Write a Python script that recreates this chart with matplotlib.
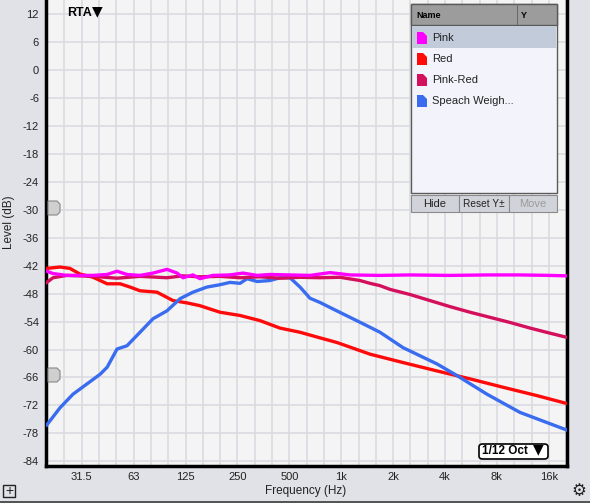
import matplotlib
matplotlib.use("Agg")
import matplotlib.pyplot as plt
from matplotlib.patches import Rectangle, Polygon, FancyBboxPatch
from matplotlib.ticker import FixedLocator, NullFormatter

plt.rcParams['font.family'] = ['Liberation Sans', 'DejaVu Sans']
plt.rcParams['axes.unicode_minus'] = False

# 数据
pink_f = [19.6, 21.3, 25.6, 30.5, 36.4, 43.9, 50.1, 57.2, 68.1, 81, 97.6, 111.6, 120.9,
          138.1, 151.6, 180.4, 226, 269.6, 325, 386, 504, 660, 861, 1125, 1679, 2500,
          4275, 7000, 10890, 16260, 20400]
pink_db = [-43.2, -43.7, -44.1, -44.1, -44.1, -43.9, -43.2, -43.9, -44.1, -43.6, -42.8,
           -43.6, -44.6, -44.0, -44.8, -44.1, -44.0, -43.6, -44.1, -43.9, -44.0, -44.1,
           -43.5, -44.0, -44.1, -44.0, -44.1, -44.0, -44.0, -44.1, -44.2]

red_f = [19.6, 23.4, 26.7, 30.5, 36.4, 43.9, 52.2, 59.6, 68.1, 85.4, 105.8, 127.5, 151.6,
         198, 259, 338, 386, 441, 577, 753, 945, 1469, 2283, 3595, 5585, 8680, 13670, 20400]
red_db = [-42.6, -42.3, -42.6, -43.8, -44.5, -45.9, -45.9, -46.6, -47.4, -47.7, -49.5,
          -50.0, -50.6, -52.0, -52.7, -53.8, -54.6, -55.4, -56.3, -57.5, -58.5, -61.0,
          -62.8, -64.6, -66.3, -68.1, -69.9, -71.6]

pinkred_f = [19.6, 21.3, 25.6, 36.4, 50.1, 68.1, 97.6, 120, 151.6, 198, 259, 338, 441,
             577, 753, 984, 1285, 1469, 1679, 1919, 2507, 3274, 4275, 5585, 7295, 9530,
             12450, 16260, 20400]
pinkred_db = [-45.6, -44.6, -44.1, -44.3, -44.7, -44.3, -44.6, -44.2, -44.4, -44.3, -44.6,
              -44.4, -44.7, -44.5, -44.6, -44.5, -45.2, -45.8, -46.3, -47.1, -48.2, -49.5,
              -50.8, -52.0, -53.1, -54.2, -55.4, -56.5, -57.4]

blue_f = [19.6, 23.4, 27.8, 33.5, 40, 43.9, 50.1, 57.2, 68.1, 81, 97.6, 116.2, 138.1,
          166.4, 198, 226.5, 259, 284.5, 325, 386, 441.5, 504.5, 577, 659, 753, 896,
          1125, 1411, 1679, 2283, 3595, 4695, 7010, 10890, 20400]
blue_db = [-76.2, -72.5, -69.6, -67.4, -65.3, -63.8, -59.9, -59.2, -56.3, -53.4, -51.7,
           -49.1, -47.7, -46.6, -46.1, -45.6, -45.8, -44.8, -45.4, -45.2, -44.6, -44.6,
           -46.6, -49.0, -49.9, -51.3, -53.1, -54.9, -56.3, -59.6, -63.1, -65.6, -69.6,
           -73.5, -77.3]

series_names = ["Pink", "Red", "Pink-Red", "Speach Weigh..."]
series_colors = ["#ff00ff", "#ff0a0a", "#d4105c", "#3a6cf0"]

x_ticks = [31.25, 62.5, 125, 250, 500, 1000, 2000, 4000, 8000, 16000]
x_labels = ["31.5", "63", "125", "250", "500", "1k", "2k", "4k", "8k", "16k"]
y_ticks = list(range(-84, 13, 6))

W, H = 590, 503


def fx(x):
    return x / W


def fy(y):
    return 1 - y / H


fig = plt.figure(figsize=(5.9, 5.03), dpi=100)
fig.patch.set_facecolor("#e1e2e7")

ax = fig.add_axes([fx(46), fy(466), 521 / W, 466 / H])
ax.set_facecolor("#f4f4f4")
ax.set_xscale("log")
ax.set_xlim(19.4, 20400)
ax.set_ylim(-85, 15)

# 1/3 倍频程网格
minor = [1000 * 2 ** (k / 3) for k in range(-17, 14)]
ax.xaxis.set_major_locator(FixedLocator(x_ticks))
ax.set_xticklabels(x_labels)
ax.xaxis.set_minor_locator(FixedLocator(minor))
ax.xaxis.set_minor_formatter(NullFormatter())
ax.set_yticks(y_ticks)
ax.grid(True, which="both", axis="x", color="#dadbe1", linewidth=1.2)
ax.grid(True, axis="y", color="#dadbe1", linewidth=1.2)
ax.set_axisbelow(True)
ax.tick_params(which="both", length=0, labelsize=8, colors="#222222")
ax.tick_params(axis="x", pad=4)
ax.tick_params(axis="y", pad=5)

for s in ["left", "bottom", "right"]:
    ax.spines[s].set_linewidth(2.5)
    ax.spines[s].set_color("black")
ax.spines["top"].set_visible(False)

lw = 2.4
ax.plot(red_f, red_db, color=series_colors[1], lw=lw, zorder=3)
ax.plot(blue_f, blue_db, color=series_colors[3], lw=lw, zorder=3)
ax.plot(pinkred_f, pinkred_db, color=series_colors[2], lw=lw, zorder=4)
ax.plot(pink_f, pink_db, color=series_colors[0], lw=lw, zorder=5)

fig.text(fx(306), fy(491), "Frequency (Hz)", fontsize=8.5, color="#222222",
         ha="center", va="center")
fig.text(fx(9), fy(222), "Level (dB)", rotation=90, fontsize=8.5, color="#222222",
         ha="center", va="center")

# 左侧标记
for yy in [208, 375]:
    fig.add_artist(Polygon([(fx(48), fy(yy - 7)), (fx(57), fy(yy - 7)), (fx(60), fy(yy - 4)),
                            (fx(60), fy(yy + 4)), (fx(57), fy(yy + 7)), (fx(48), fy(yy + 7))],
                           closed=True, facecolor="#cfcfcf", edgecolor="#888888", lw=0.8,
                           transform=fig.transFigure))

fig.text(fx(67), fy(13), "RTA", fontsize=9, fontweight="bold", va="center", ha="left")
fig.text(fx(92), fy(11), "▼", fontsize=10, va="center", ha="left", family=["DejaVu Sans"])

# 1/12 Oct 按钮
fig.add_artist(FancyBboxPatch((fx(479), fy(459)), 69 / W, 15 / H,
                              boxstyle="round,pad=0,rounding_size=0.006",
                              facecolor="white", edgecolor="black", lw=1.2,
                              transform=fig.transFigure))
fig.text(fx(482), fy(451.5), "1/12 Oct", fontsize=8.5, fontweight="bold",
         ha="left", va="center")
fig.text(fx(533), fy(449.5), "▼", fontsize=10, ha="left", va="center",
         family=["DejaVu Sans"])

# 图例面板
fig.add_artist(Rectangle((fx(411), fy(193)), 146 / W, 189 / H, facecolor="#f3f4fb",
                         edgecolor="#5a5a5a", lw=1.0, transform=fig.transFigure))
fig.add_artist(Rectangle((fx(411), fy(25)), 146 / W, 21 / H, facecolor="#9c9c9c",
                         edgecolor="#5a5a5a", lw=1.0, transform=fig.transFigure))
fig.add_artist(Rectangle((fx(517), fy(25)), 0.5 / W, 21 / H, facecolor="#6a6a6a",
                         edgecolor="none", transform=fig.transFigure))
fig.text(fx(416), fy(16), "Name", fontsize=6.5, fontweight="bold", va="center")
fig.text(fx(521), fy(16), "Y", fontsize=6.5, fontweight="bold", va="center")
fig.add_artist(Rectangle((fx(412), fy(48)), 144 / W, 22 / H, facecolor="#c1cbd9",
                         edgecolor="none", transform=fig.transFigure))
for i, (name, col) in enumerate(zip(series_names, series_colors)):
    yc = 38 + i * 21
    fig.add_artist(Polygon([(fx(417), fy(yc + 6)), (fx(417), fy(yc - 6)), (fx(423), fy(yc - 6)),
                            (fx(427), fy(yc - 2)), (fx(427), fy(yc + 6))],
                           closed=True, facecolor=col, edgecolor="none",
                           transform=fig.transFigure))
    fig.text(fx(432), fy(yc), name, fontsize=8, color="#222222", va="center")

# 按钮
for x0, w, label, tc in [(411, 48, "Hide", "#222222"), (459, 50, "Reset Y±", "#222222"),
                         (509, 48, "Move", "#9a9a9a")]:
    fig.add_artist(Rectangle((fx(x0), fy(212)), w / W, 17 / H, facecolor="#d0d4da",
                             edgecolor="#8a8a8a", lw=0.8, transform=fig.transFigure))
    fig.text(fx(x0 + w / 2), fy(204), label, fontsize=8 if label != "Reset Y±" else 7.3,
             color=tc, ha="center", va="center")

# 底部图标
fig.add_artist(Rectangle((fx(3), fy(497)), 12 / W, 12 / H, facecolor="none",
                         edgecolor="#222222", lw=1.0, transform=fig.transFigure))
fig.text(fx(9), fy(491), "+", fontsize=10, ha="center", va="center", color="#222222")
fig.text(fx(579), fy(491), "⚙", fontsize=12, ha="center", va="center", color="#222222",
         family=["DejaVu Sans"])
fig.add_artist(Rectangle((0, 0), 1, 2 / H, facecolor="#555555", edgecolor="none",
                         transform=fig.transFigure))

fig.savefig("out.png", dpi=100, facecolor=fig.get_facecolor())
